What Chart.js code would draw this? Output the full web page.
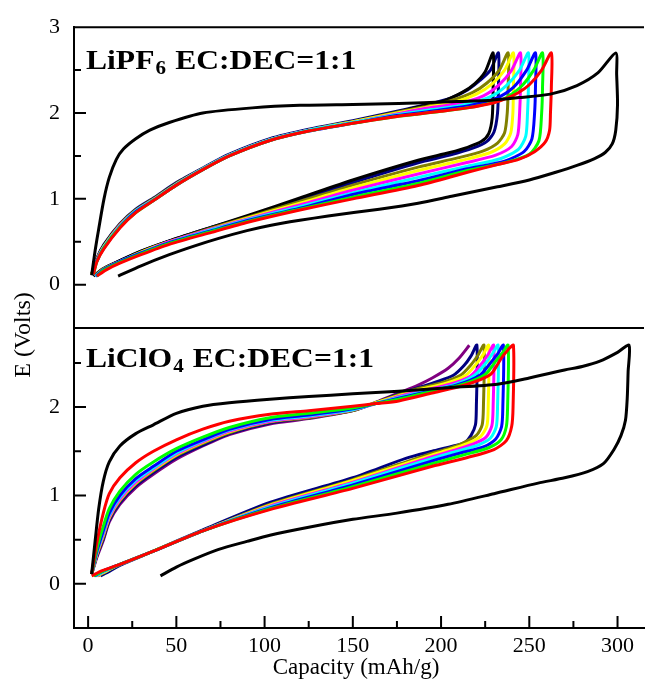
<!DOCTYPE html>
<html>
<head>
<meta charset="utf-8">
<script src="https://cdn.jsdelivr.net/npm/chart.js@4.4.0/dist/chart.umd.min.js"></script>
<style>
  html, body { margin: 0; padding: 0; background: #fff; }
  #grafico { display: block; }
</style>
</head>
<body>
<canvas id="grafico" width="650" height="684"></canvas>
<script>
// eixos
const capMin = -8, capMax = 315;
const capTicks = [0, 50, 100, 150, 200, 250, 300];
const eTicksPF = [0, 1, 2, 3];
const eTicksCl = [0, 1, 2];

// LiPF6 EC:DEC=1:1  -> [capacidade mAh/g, E Volts]
const pfBlack1 = [[17,.1],[30,.22],[46,.35],[60,.45],[74,.54],[90,.63],[103,.69],[120,.75],[136,.8],[165,.88],[187,.95],[206,1.03],[232,1.14],[250,1.22],[265,1.31],[277,1.39],[287,1.47],[293,1.54],[297,1.64],[299,1.8],[300,2.1],[299.5,2.45],[299,2.7],
  [289,2.47],[277,2.32],[262,2.22],[244,2.18],[228,2.15],[204,2.13],[176,2.11],[150,2.1],[120,2.09],[93,2.06],[65,2.0],[46,1.89],[35,1.8],[27,1.7],[20,1.58],[16,1.46],[12,1.25],[9,1.0],[6,.65],[4,.4],[2,.11]];
const pfRed = [[5,.1],[10,.17],[18,.25],[30,.35],[46,.47],[70,.61],[91,.73],[120,.87],[150,1.0],[187,1.155],[215,1.31],[232,1.4],[244,1.46],[253,1.55],[259,1.66],[261.5,1.8],[262,2.0],[262.5,2.3],[262.5,2.7],
  [257,2.5],[250,2.33],[244,2.24],[237,2.17],[230,2.12],[215,2.06],[200,2.02],[187,1.99],[175,1.96],[150,1.88],[125,1.79],[103,1.68],[80,1.5],[65,1.34],[50,1.16],[37,.98],[27,.84],[18,.66],[9,.42],[5,.27],[3,.12]];
const pfLime = [[5,.1],[9,.17],[18,.26],[30,.36],[46,.48],[70,.62],[91,.74],[120,.88],[150,1.02],[187,1.18],[215,1.33],[236,1.42],[250,1.52],[255.5,1.68],[257,2.0],[257.5,2.3],[257.5,2.7],
  [252.5,2.5],[245,2.3],[235,2.16],[220,2.08],[200,2.02],[175,1.96],[150,1.88],[125,1.79],[103,1.68],[80,1.5],[65,1.34],[50,1.16],[37,.98],[27,.84],[18,.67],[9,.43],[5,.27],[3,.12]];
const pfBlue = [[4.5,.1],[9,.18],[18,.27],[30,.37],[46,.49],[70,.63],[91,.75],[120,.89],[150,1.05],[187,1.21],[215,1.35],[236,1.44],[247,1.55],[251.5,1.7],[253,2.0],[253.5,2.3],[253.5,2.7],
  [248.5,2.5],[241,2.3],[231,2.17],[217,2.09],[198,2.03],[175,1.97],[150,1.88],[125,1.79],[103,1.68],[80,1.5],[65,1.34],[50,1.16],[37,.98],[27,.85],[18,.67],[9,.43],[5,.28],[2.5,.12]];
const pfCyan = [[4,.1],[9,.18],[18,.27],[30,.37],[46,.49],[70,.64],[91,.76],[120,.91],[150,1.07],[187,1.25],[215,1.38],[234,1.47],[244,1.58],[248,1.73],[249,2.0],[249.5,2.3],[249.5,2.7],
  [244.5,2.5],[237,2.32],[228,2.19],[214,2.1],[195,2.04],[175,1.98],[150,1.89],[125,1.8],[103,1.69],[80,1.51],[65,1.35],[50,1.17],[37,.99],[27,.86],[18,.68],[9,.44],[5,.28],[2.5,.12]];
const pfMagenta = [[4,.1],[9,.18],[18,.27],[30,.37],[46,.5],[70,.65],[91,.77],[120,.93],[150,1.1],[187,1.29],[214,1.42],[231,1.51],[240,1.61],[243.5,1.75],[244.5,2.0],[245,2.3],[245,2.7],
  [240,2.5],[233,2.33],[224,2.2],[210,2.11],[190,2.05],[175,1.99],[150,1.89],[125,1.8],[103,1.69],[80,1.51],[65,1.35],[50,1.17],[37,.99],[27,.86],[18,.69],[9,.44],[5,.29],[2.5,.12]];
const pfYellow = [[4,.1],[9,.18],[18,.27],[30,.38],[46,.5],[70,.65],[91,.78],[120,.95],[150,1.13],[187,1.33],[212,1.45],[228,1.54],[236,1.64],[239.5,1.77],[240.7,2.0],[241,2.3],[241,2.7],
  [236,2.5],[229,2.34],[220,2.22],[208,2.13],[190,2.06],[175,2.0],[150,1.9],[125,1.8],[103,1.69],[80,1.51],[65,1.35],[50,1.17],[37,.99],[27,.86],[18,.69],[9,.45],[5,.29],[2,.12]];
const pfOlive = [[4,.1],[8,.18],[18,.27],[30,.38],[46,.5],[70,.66],[91,.79],[120,.97],[150,1.16],[187,1.37],[210,1.48],[224,1.56],[232,1.65],[236,1.77],[237.5,2.0],[238,2.3],[238,2.7],
  [233,2.5],[226,2.35],[218,2.24],[205,2.14],[190,2.07],[175,2.01],[150,1.9],[125,1.8],[103,1.69],[80,1.51],[65,1.35],[50,1.18],[37,1.0],[27,.87],[18,.7],[9,.45],[5,.3],[2,.12]];
const pfBlack2 = [[3,.1],[8,.18],[18,.28],[30,.39],[46,.51],[70,.67],[91,.81],[120,1.01],[150,1.22],[187,1.45],[205,1.54],[215,1.6],[223,1.67],[227,1.76],[229,1.95],[229.5,2.3],[229.5,2.7],
  [225,2.48],[219,2.34],[212,2.24],[200,2.13],[187,2.07],[175,2.01],[150,1.9],[125,1.8],[103,1.69],[80,1.51],[65,1.35],[50,1.18],[37,1.0],[27,.87],[18,.7],[9,.46],[5,.3],[2,.12]];
const pfNavy = [[4,.1],[8,.18],[18,.28],[30,.39],[46,.51],[70,.67],[91,.8],[120,.99],[150,1.19],[187,1.42],[205,1.51],[218,1.59],[226,1.67],[230,1.78],[232,2.0],[232.5,2.3],[232.5,2.7],
  [228,2.5],[222,2.38],[215,2.27],[205,2.17],[190,2.09],[175,2.02],[150,1.91],[125,1.81],[103,1.7],[80,1.52],[65,1.36],[50,1.19],[37,1.01],[27,.88],[18,.71],[9,.47],[5,.31],[2,.12]];

// LiClO4 EC:DEC=1:1
const clBlack1 = [[41,.09],[50,.19],[60,.28],[74,.39],[90,.48],[103,.55],[125,.64],[150,.73],[175,.8],[204,.9],[230,1.02],[255,1.14],[270,1.2],[283,1.27],[292,1.36],[298,1.52],[302,1.68],[304.5,1.85],[305.5,2.1],[306,2.4],[306.5,2.7],
  [300,2.62],[290,2.52],[280,2.46],[270,2.42],[250,2.33],[232,2.26],[204,2.22],[176,2.18],[150,2.15],[125,2.12],[103,2.09],[80,2.05],[65,2.01],[50,1.93],[37,1.8],[27,1.7],[18,1.56],[12,1.38],[8.6,1.16],[6,.85],[4,.49],[2,.11]];
const clRed = [[2,.09],[8,.15],[18,.22],[37,.37],[65,.6],[103,.84],[150,1.08],[195,1.33],[215,1.43],[230,1.52],[237,1.62],[240,1.78],[240.8,2.0],[241,2.7],
  [238,2.65],[234,2.55],[228,2.37],[213.5,2.25],[195,2.16],[176,2.07],[163,2.04],[150,2.01],[125,1.96],[103,1.92],[80,1.84],[65,1.75],[50,1.63],[37,1.5],[27,1.37],[18,1.2],[12,1.02],[8.6,.8],[5,.47],[2,.11]];
const clLime = [[3,.09],[9,.15],[18,.22],[37,.37],[65,.6],[103,.85],[150,1.1],[195,1.36],[213,1.46],[227,1.54],[234,1.63],[237,1.78],[237.7,2.0],[238,2.7],
  [235,2.62],[231,2.52],[225,2.37],[211,2.25],[193,2.17],[176,2.09],[163,2.04],[150,1.99],[125,1.93],[103,1.88],[80,1.77],[65,1.66],[50,1.53],[37,1.38],[27,1.24],[18,1.05],[12,.85],[8.6,.65],[5,.4],[2,.11]];
const clBlue = [[3.5,.09],[9,.15],[18,.22],[37,.37],[65,.6],[103,.86],[150,1.12],[195,1.39],[211,1.48],[224,1.55],[231,1.64],[234.3,1.78],[235,2.0],[235.3,2.7],
  [232,2.6],[228,2.5],[222,2.36],[209,2.25],[191,2.17],[176,2.1],[163,2.04],[150,1.98],[125,1.91],[103,1.86],[80,1.75],[65,1.63],[50,1.5],[37,1.33],[27,1.19],[18,1.0],[12,.8],[8.6,.6],[5,.37],[2,.11]];
const clCyan = [[4,.09],[10,.15],[18,.22],[37,.37],[65,.6],[103,.87],[150,1.14],[195,1.42],[209,1.5],[221,1.57],[228,1.65],[231.3,1.78],[232,2.0],[232.3,2.7],
  [229,2.6],[225,2.49],[219,2.36],[207,2.25],[189,2.17],[176,2.11],[163,2.04],[150,1.97],[125,1.9],[103,1.85],[80,1.74],[65,1.62],[50,1.48],[37,1.31],[27,1.17],[18,.98],[12,.78],[8.6,.58],[5,.36],[2,.11]];
const clMagenta = [[4.5,.09],[10,.15],[18,.22],[37,.37],[65,.6],[103,.88],[150,1.15],[195,1.44],[207,1.51],[218,1.58],[225.5,1.66],[228.8,1.79],[229.5,2.0],[229.8,2.7],
  [226.5,2.59],[222.5,2.48],[216.5,2.35],[205,2.26],[188,2.18],[176,2.12],[163,2.04],[150,1.97],[125,1.89],[103,1.84],[80,1.73],[65,1.61],[50,1.47],[37,1.3],[27,1.15],[18,.96],[12,.76],[8.6,.56],[5,.35],[2,.11]];
const clYellow = [[5,.09],[11,.15],[18,.22],[37,.37],[65,.6],[103,.89],[150,1.17],[195,1.46],[205,1.52],[215,1.59],[222.5,1.67],[226,1.79],[226.7,2.0],[227,2.7],
  [224,2.6],[220,2.49],[214,2.36],[203,2.27],[186,2.19],[176,2.13],[163,2.05],[150,1.97],[125,1.89],[103,1.84],[80,1.72],[65,1.6],[50,1.46],[37,1.29],[27,1.14],[18,.95],[12,.75],[8.6,.55],[5,.34],[2,.11]];
const clOlive = [[5.5,.09],[11,.15],[18,.22],[37,.37],[65,.6],[103,.9],[150,1.18],[195,1.48],[204,1.53],[212,1.59],[220,1.68],[223.3,1.8],[224,2.0],[224.3,2.7],
  [221,2.59],[217,2.48],[211,2.36],[201,2.28],[185,2.2],[176,2.14],[163,2.05],[150,1.96],[125,1.88],[103,1.83],[80,1.71],[65,1.59],[50,1.45],[37,1.28],[27,1.13],[18,.94],[12,.74],[8.6,.53],[5,.33],[2,.11]];
const clNavy = [[7,.09],[12,.14],[18,.21],[37,.37],[65,.61],[103,.92],[150,1.2],[180,1.42],[195,1.5],[207,1.56],[213.5,1.6],[217,1.68],[219.5,1.8],[220,2.0],[220.3,2.7],
  [217,2.58],[213,2.47],[207,2.36],[198,2.29],[184,2.2],[176,2.15],[163,2.05],[150,1.96],[125,1.88],[103,1.82],[80,1.7],[65,1.57],[50,1.43],[37,1.26],[27,1.11],[18,.92],[12,.72],[8.6,.51],[5,.32],[2,.11]];
const clPurple = [[216,2.7],[210,2.55],[204,2.44],[195,2.33],[187,2.25],[176,2.16],[165,2.07],[150,1.96],[125,1.87],[103,1.81],[80,1.69],[65,1.56],[50,1.41],[37,1.24],[27,1.09],[18,.9],[12,.7],[8.6,.49],[5,.3],[2,.11]];

// ordem de desenho e cores
const seriesPF = [pfBlack1, pfRed, pfLime, pfBlue, pfCyan, pfMagenta, pfYellow, pfOlive, pfBlack2, pfNavy];
const coresPF = ['#000000', '#ff0000', '#00ff00', '#0000ff', '#00ffff', '#ff00ff', '#ffff00', '#808000', '#000000', '#000080'];
const seriesCl = [clBlack1, clRed, clLime, clBlue, clCyan, clMagenta, clYellow, clOlive, clNavy, clPurple];
const coresCl = ['#000000', '#ff0000', '#00ff00', '#0000ff', '#00ffff', '#ff00ff', '#ffff00', '#808000', '#000080', '#800080'];

const fonte = 'Liberation Serif, Times New Roman, serif';

function montarDataset(pts, cor, eixo) {
  return {
    data: pts.map(p => ({ x: p[0], y: p[1] })),
    yAxisID: eixo,
    borderColor: cor,
    backgroundColor: cor,
    borderWidth: 3,
    pointRadius: 0,
    showLine: true,
    fill: false,
    tension: 0.25
  };
}

let datasets = [];
for (let i = 0; i < seriesCl.length; i++) datasets.push(montarDataset(seriesCl[i], coresCl[i], 'yCl'));
for (let i = 0; i < seriesPF.length; i++) datasets.push(montarDataset(seriesPF[i], coresPF[i], 'yPF'));

// moldura, ticks internos, rotulos dos paineis e titulos dos eixos
const moldura = {
  id: 'moldura',
  afterDraw(chart) {
    const ctx = chart.ctx;
    const area = chart.chartArea;
    const sx = chart.scales.x, sPF = chart.scales.yPF, sCl = chart.scales.yCl;
    ctx.save();
    ctx.strokeStyle = '#000';
    ctx.lineWidth = 2;
    ctx.beginPath();
    ctx.moveTo(area.left, area.top); ctx.lineTo(area.right, area.top);
    const meio = Math.round(Math.max(sCl.top, sPF.top));
    ctx.moveTo(area.left, meio); ctx.lineTo(area.right, meio);
    // ticks y
    [sPF, sCl].forEach(function (s) {
      s.ticks.forEach(function (t) {
        const py = s.getPixelForValue(t.value);
        if (py <= s.top + 2 || py >= s.bottom - 2) return;
        const len = Number.isInteger(t.value) ? 12 : 7;
        ctx.moveTo(area.left, py); ctx.lineTo(area.left + len, py);
      });
    });
    // ticks x
    sx.ticks.forEach(function (t) {
      const px = sx.getPixelForValue(t.value);
      const len = (t.value % 50 === 0) ? 12 : 7;
      ctx.moveTo(px, area.bottom); ctx.lineTo(px, area.bottom - len);
    });
    ctx.stroke();

    // rotulos dos paineis (um pouco esticados na horizontal como no original)
    function rotulo(x, y, antes, sub, depois) {
      ctx.save();
      ctx.translate(x, y);
      ctx.scale(1.17, 1);
      ctx.fillStyle = '#000';
      ctx.textBaseline = 'alphabetic';
      ctx.textAlign = 'left';
      ctx.font = 'bold 27px ' + fonte;
      ctx.fillText(antes, 0, 0);
      let w = ctx.measureText(antes).width;
      ctx.font = 'bold 18px ' + fonte;
      ctx.fillText(sub, w + 1, 5);
      w += ctx.measureText(sub).width + 2;
      ctx.font = 'bold 27px ' + fonte;
      ctx.fillText(depois, w, 0);
      ctx.restore();
    }
    const ySup = sPF.top < sCl.top ? sPF : sCl;
    const yInf = ySup === sPF ? sCl : sPF;
    rotulo(86, ySup.top + 42, 'LiPF', '6', ' EC:DEC=1:1');
    rotulo(86, yInf.top + 39, 'LiClO', '4', ' EC:DEC=1:1');

    ctx.fillStyle = '#000';
    ctx.font = '23px ' + fonte;
    ctx.textAlign = 'center';
    ctx.textBaseline = 'middle';
    ctx.fillText('Capacity (mAh/g)', 356, 668);

    ctx.translate(24, 335);
    ctx.rotate(-Math.PI / 2);
    ctx.font = '24px ' + fonte;
    ctx.fillText('E (Volts)', 0, 0);
    ctx.restore();
  }
};

const eixoY = function (min, max, labels) {
  return {
    type: 'linear',
    position: 'left',
    stack: 'paineis',
    stackWeight: 1,
    min: min,
    max: max,
    offset: false,
    border: { display: true, color: '#000', width: 2 },
    grid: { display: false, drawTicks: false },
    ticks: {
      stepSize: 0.5,
      includeBounds: false,
      autoSkip: false,
      padding: 14,
      color: '#000',
      font: { family: fonte, size: 22 },
      callback: function (v) { return labels.indexOf(v) >= 0 ? String(v) : ''; }
    },
    afterFit: function (s) { s.width = 74; }
  };
};

new Chart(document.getElementById('grafico'), {
  type: 'scatter',
  data: { datasets: datasets },
  options: {
    responsive: false,
    animation: false,
    layout: { padding: { top: 24, right: 6, left: 0, bottom: 0 } },
    plugins: { legend: { display: false }, tooltip: { enabled: false } },
    scales: {
      x: {
        type: 'linear',
        min: capMin,
        max: capMax,
        border: { display: true, color: '#000', width: 2 },
        grid: { display: false, drawTicks: false },
        ticks: {
          stepSize: 25,
          includeBounds: false,
          autoSkip: false,
          maxRotation: 0,
          padding: 5,
          color: '#000',
          font: { family: fonte, size: 22 },
          callback: function (v) { return capTicks.indexOf(v) >= 0 ? String(v) : ''; }
        },
        afterFit: function (s) { s.height = 56; }
      },
      yCl: eixoY(-0.5, 2.9, eTicksCl),
      yPF: eixoY(-0.5, 3, eTicksPF)
    }
  },
  plugins: [moldura]
});
</script>
</body>
</html>
